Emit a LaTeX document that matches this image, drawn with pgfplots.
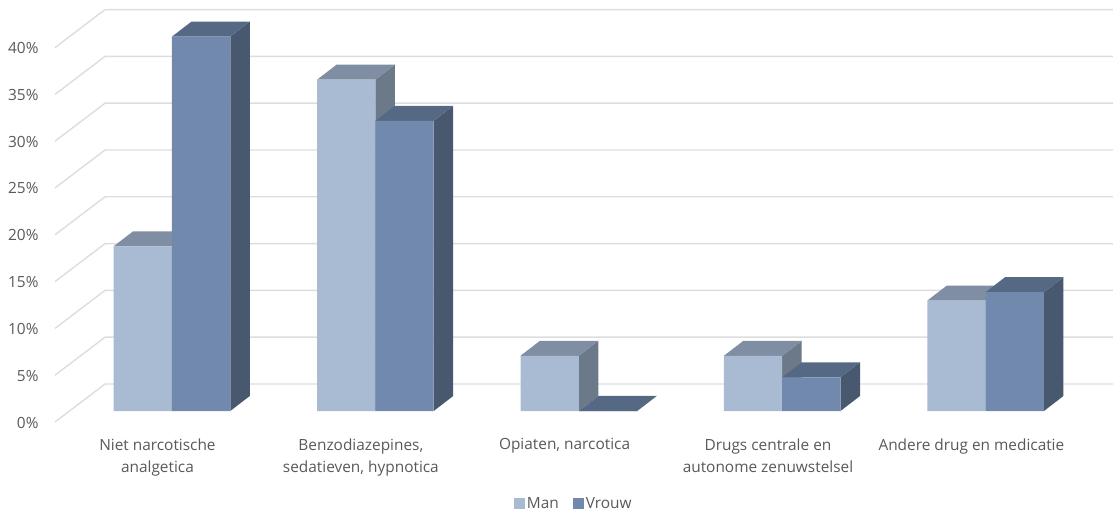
\documentclass[border=0pt]{standalone}
\usepackage{pgfplots}
\usepackage{pgfplotstable}
\usepackage{fontspec}
\setmainfont{Open Sans}
\pgfplotsset{compat=1.18}
\definecolor{txt}{HTML}{595959}
\definecolor{grd}{HTML}{DDDDDD}
\definecolor{mf}{HTML}{A9BBD3}
\definecolor{mt}{HTML}{7F8EA3}
\definecolor{ms}{HTML}{6C7988}
\definecolor{vf}{HTML}{7189AD}
\definecolor{vt}{HTML}{566984}
\definecolor{vs}{HTML}{47586F}
\pgfplotstableread{
x y
0 17.6
1 35.4
2 5.9
3 5.9
4 11.8
}\Man
\pgfplotstableread{
x y
0 40.0
1 31.0
2 0.0
3 3.6
4 12.7
}\Vrouw
\def\bw{0.2866}
\def\ddx{0.0959}
\def\ddy{1.6026}
% side and top of one bar: left x, value, side colour, top colour
\newcommand\sidetop[4]{%
  \pgfmathsetmacro\xl{#1}%
  \pgfmathsetmacro\xr{#1+\bw}%
  \pgfmathsetmacro\xlb{#1+\ddx}%
  \pgfmathsetmacro\xrb{#1+\bw+\ddx}%
  \pgfmathsetmacro\yt{#2}%
  \pgfmathsetmacro\ytb{#2+\ddy}%
  \addplot[forget plot,no markers,draw=none,fill=#3] coordinates {(\xr,0) (\xrb,\ddy) (\xrb,\ytb) (\xr,\yt) (\xr,0)};
  \addplot[forget plot,no markers,draw=none,fill=#4] coordinates {(\xl,\yt) (\xlb,\ytb) (\xrb,\ytb) (\xr,\yt) (\xl,\yt)};
}
\newcommand\gridl[1]{%
  \pgfmathsetmacro\ya{#1-1.175}%
  \pgfmathsetmacro\yb{#1+2.885}%
  \addplot[forget plot,no markers,grd,line width=1.4pt] coordinates {(-0.575,\ya) (-0.329,\yb) (4.626,\yb)};
}
\begin{document}
\begin{tikzpicture}[x=1pt,y=1pt]
\useasboundingbox (0,0) rectangle (1113,514);
\begin{axis}[
  at={(55pt,84pt)},anchor=south west,
  scale only axis,width=1058pt,height=430pt,
  xmin=-0.575,xmax=4.626,ymin=-2.03,ymax=43.91,
  clip=false,
  axis line style={draw=none},
  major tick style={draw=none},
  xtick={-0.0713,0.9287,1.93,2.93,3.93},
  xticklabels={{Niet narcotische\\analgetica},{Benzodiazepines,\\sedatieven, hypnotica},{Opiaten, narcotica},{Drugs centrale en\\autonome zenuwstelsel},{Andere drug en medicatie}},
  ytick={-1.175,3.825,8.825,13.825,18.825,23.825,28.825,33.825,38.825},
  yticklabels={0\%,5\%,10\%,15\%,20\%,25\%,30\%,35\%,40\%},
  tick label style={font=\fontsize{15.4}{22}\selectfont,text=txt},
  xticklabel style={align=center,anchor=north,yshift=-5pt},
  yticklabel style={anchor=east,xshift=-13pt,yshift=-0.5pt},
  legend style={at={(axis cs:1.975,-9.9)},anchor=center,draw=none,fill=none,legend columns=2,
    font=\fontsize{15.4}{18}\selectfont,text=txt,
    /tikz/every even column/.style={column sep=12pt}},
  legend image code/.code={\fill[#1] (0pt,-5.5pt) rectangle (11pt,5.5pt);},
]
\pgfplotsinvokeforeach{0,5,10,15,20,25,30,35,40}{\gridl{#1}}
\pgfplotsinvokeforeach{0,...,4}{%
  \pgfplotstablegetelem{#1}{y}\of\Man
  \let\val\pgfplotsretval
  \sidetop{#1*1.0-\bw}{\val}{ms}{mt}
}
\addplot[ybar,bar width=0.2866,bar shift=-0.1433,draw=none,fill=mf] table[x=x,y=y] {\Man};
\addlegendentry{Man}
\pgfplotsinvokeforeach{0,...,4}{%
  \pgfplotstablegetelem{#1}{y}\of\Vrouw
  \let\val\pgfplotsretval
  \sidetop{#1*1.0}{\val}{vs}{vt}
}
\addplot[ybar,bar width=0.2866,bar shift=0.1433,draw=none,fill=vf] table[x=x,y=y] {\Vrouw};
\addlegendentry{Vrouw}
\end{axis}
\end{tikzpicture}
\end{document}
